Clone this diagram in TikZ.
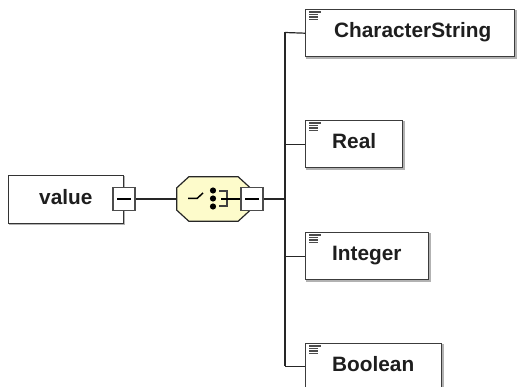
\documentclass[tikz,border=0pt]{standalone}
\usepackage{fontspec}
\setmainfont{Liberation Sans}
\definecolor{seqfill}{RGB}{253,251,203}
\definecolor{boxline}{RGB}{60,60,60}
\definecolor{txt}{RGB}{30,30,30}
\tikzset{
  elembox/.style={draw=boxline, line width=1.4pt, fill=white, inner sep=0pt, anchor=north west},
  shadowed/.style={preaction={draw=gray!60, line width=1.4pt, transform canvas={xshift=1.2pt,yshift=-1.2pt}}},
  lbl/.style={font=\fontsize{20.8}{24}\bfseries\selectfont, text=txt, inner sep=0pt, anchor=base west},
  minusbox/.style={draw=gray!60!black, line width=1.3pt, fill=white, inner sep=0pt, minimum width=22pt, minimum height=23pt},
  conn/.style={line width=1.2pt, draw=black!85},
  docline/.style={line width=1.4pt, draw=black!70}
}
\newcommand{\docicon}[1]{%
  \draw[docline] ([xshift=4pt,yshift=-3pt]#1.north west) -- ++(12pt,0);
  \foreach \k in {5.5,8,10.5}{\draw[docline] ([xshift=4pt,yshift=-\k pt]#1.north west) -- ++(9pt,0);}
}
\begin{document}
\begin{tikzpicture}[x=1pt,y=-1pt]
\useasboundingbox (0,0) rectangle (517,387);
% value element
\node[elembox, draw=black!80, line width=1.1pt, shadowed, minimum width=115pt, minimum height=48pt] (value) at (8,175) {};
\node[lbl] (valuetxt) at ([xshift=31pt,yshift=-5pt]value.west) {value};
\node[minusbox] (valminus) at (124,199) {};
\draw[line width=1.2pt] ([xshift=-7pt]valminus.center) -- ([xshift=7pt]valminus.center);
% sequence compositor
\node[minimum width=73pt, minimum height=44pt, inner sep=0pt] (seq) at (213.5,199) {};
\draw[line width=1.2pt, draw=black!85, fill=seqfill]
  ([xshift=12pt]seq.north west) -- ([xshift=-12pt]seq.north east) -- ([yshift=-11pt]seq.north east)
  -- ([yshift=11pt]seq.south east) -- ([xshift=-12pt]seq.south east) -- ([xshift=12pt]seq.south west)
  -- ([yshift=11pt]seq.south west) -- ([yshift=-11pt]seq.north west) -- cycle;
\draw[line width=1.5pt] (188,198.5) -- (197,198.5) -- (203,193);
\foreach \yy in {190.5,198.5,206.5}{\fill (213,\yy) circle (3.1pt);}
\draw[line width=2pt, draw=black!75] (219,191.5) -- (226.5,191.5) -- (226.5,206) -- (219,206);
\draw[line width=1.3pt] (221,199) -- (241,199);
\node[minusbox] (seqminus) at (252,199) {};
\draw[line width=1.2pt] ([xshift=-7pt]seqminus.center) -- ([xshift=7pt]seqminus.center);
% child elements
\node[elembox, shadowed, minimum width=209pt, minimum height=47pt] (cs) at (305,9) {};
\node[elembox, shadowed, minimum width=97pt, minimum height=47pt] (real) at (305,120) {};
\node[elembox, shadowed, minimum width=123pt, minimum height=47pt] (int) at (305,232) {};
\node[elembox, shadowed, minimum width=136pt, minimum height=47pt] (bool) at (305,343) {};
\node[lbl] (cstxt) at ([xshift=29pt,yshift=-4.5pt]cs.west) {CharacterString};
\node[lbl] (realtxt) at ([xshift=27pt,yshift=-4.5pt]real.west) {Real};
\node[lbl] (inttxt) at ([xshift=27pt,yshift=-4.5pt]int.west) {Integer};
\node[lbl] (booltxt) at ([xshift=27pt,yshift=-4.5pt]bool.west) {Boolean};
\docicon{cs}\docicon{real}\docicon{int}\docicon{bool}
% connectors
\coordinate (sptop) at (285,32.5);
\coordinate (spbot) at (285,366.5);
\draw[conn] (valminus.east) -- (seq.west);
\draw[conn] (seqminus.east) -- (seqminus.east -| sptop);
\draw[conn] (sptop) -- (spbot);
\draw[conn] (sptop) -- (cs.west);
\draw[conn] (real.west -| sptop) -- (real.west);
\draw[conn] (int.west -| sptop) -- (int.west);
\draw[conn] (spbot) -- (bool.west |- spbot);
\end{tikzpicture}
\end{document}
